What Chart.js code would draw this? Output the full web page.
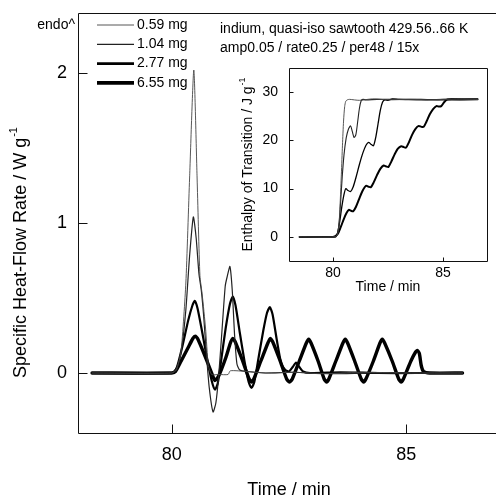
<!DOCTYPE html>
<html lang="en">
<head>
  <meta charset="UTF-8" />
  <title>Indium – quasi-isothermal sawtooth</title>
  <script src="https://cdn.jsdelivr.net/npm/chart.js"></script>
  <style>
    html, body { margin: 0; padding: 0; background: #fff; overflow: hidden; }
    #wrap { position: relative; width: 496px; height: 498px; overflow: hidden; }
    #mainChart { position: absolute; left: 0; top: 0; width: 496px; height: 498px; }
    #insetChart { position: absolute; left: 230px; top: 60px; width: 266px; height: 240px; }
  </style>
</head>
<body>
  <div id="wrap">
    <canvas id="mainChart" width="496" height="498"></canvas>
    <canvas id="insetChart" width="266" height="240"></canvas>
  </div>

  <script>
    const FONT = "'Liberation Sans', Arial, sans-serif";

    // sample masses
    const sampleLabels = ['0.59 mg', '1.04 mg', '2.77 mg', '6.55 mg'];

    // tick labels
    const mainXTicks = [80, 85];
    const mainYTicks = [0, 1, 2];
    const insetXTicks = [80, 85];
    const insetYTicks = [0, 10, 20, 30];

    // specific heat-flow rate (W/g) vs time (min)
    const t059 = [78.3, 80.0, 80.1, 80.2, 80.3, 80.38, 80.47, 80.54, 80.6, 80.65, 80.72, 80.78, 80.85, 81.0, 81.2, 81.25, 81.6, 82.0, 82.6, 83.2, 84.0, 85.0, 86.2];
    const hf059 = [0, 0, 0.02, 0.15, 0.6, 1.3, 2.02, 1.3, 0.65, 0.52, 0.3, 0.05, -0.01, -0.01, -0.01, 0.015, 0.01, 0.0, 0.005, -0.005, 0.005, 0.0, 0.0];

    const t104 = [78.3, 80.0, 80.1, 80.2, 80.3, 80.38, 80.46, 80.52, 80.58, 80.63, 80.68, 80.74, 80.8, 80.88, 80.94, 81.0, 81.07, 81.14, 81.18, 81.24, 81.29, 81.34, 81.39, 81.45, 81.6, 82.0, 82.6, 83.4, 84.2, 85.0, 86.2];
    const hf104 = [0, 0, 0.03, 0.14, 0.42, 0.78, 1.04, 0.9, 0.66, 0.55, 0.38, 0.12, -0.1, -0.26, -0.2, -0.02, 0.28, 0.58, 0.64, 0.71, 0.55, 0.25, 0.06, 0.02, 0.01, 0.0, 0.005, -0.005, 0.0, 0.0, 0.0];

    const t277 = [78.3, 80.0, 80.1, 80.22, 80.35, 80.44, 80.49, 80.55, 80.65, 80.75, 80.85, 80.92, 80.98, 81.06, 81.15, 81.24, 81.3, 81.36, 81.45, 81.55, 81.64, 81.7, 81.76, 81.85, 81.95, 82.03, 82.09, 82.15, 82.24, 82.33, 82.42, 82.5, 82.58, 82.65, 82.72, 82.8, 82.95, 83.6, 84.4, 85.2, 86.2];
    const hf277 = [0, 0, 0.03, 0.17, 0.35, 0.45, 0.48, 0.43, 0.27, 0.1, -0.05, -0.11, -0.07, 0.1, 0.3, 0.46, 0.51, 0.45, 0.27, 0.08, -0.06, -0.1, -0.06, 0.1, 0.28, 0.4, 0.44, 0.39, 0.22, 0.07, 0.02, 0.01, 0.04, 0.07, 0.04, 0.01, 0.0, 0.005, 0.0, 0.0, 0.0];

    const t655 = [78.3, 80.0, 80.08, 80.2, 80.35, 80.45, 80.5, 80.55, 80.7, 80.85, 80.92, 81.0, 81.15, 81.25, 81.3, 81.35, 81.5, 81.65, 81.7, 81.75, 81.9, 82.05, 82.1, 82.15, 82.3, 82.45, 82.51, 82.57, 82.72, 82.87, 82.92, 82.97, 83.12, 83.25, 83.3, 83.35, 83.5, 83.65, 83.7, 83.75, 83.9, 84.04, 84.09, 84.14, 84.3, 84.44, 84.49, 84.54, 84.7, 84.84, 84.89, 84.94, 85.1, 85.2, 85.24, 85.28, 85.32, 85.37, 85.5, 86.2];
    const hf655 = [0, 0, 0.01, 0.08, 0.17, 0.23, 0.245, 0.23, 0.12, 0.0, -0.05, -0.02, 0.1, 0.2, 0.23, 0.21, 0.09, -0.04, -0.06, -0.04, 0.08, 0.2, 0.23, 0.21, 0.09, -0.04, -0.06, -0.04, 0.08, 0.2, 0.225, 0.2, 0.08, -0.04, -0.06, -0.04, 0.08, 0.2, 0.225, 0.2, 0.08, -0.04, -0.06, -0.04, 0.08, 0.2, 0.225, 0.2, 0.08, -0.04, -0.06, -0.04, 0.08, 0.14, 0.15, 0.13, 0.05, 0.01, 0.0, 0.0];

    // enthalpy of transition (J/g) vs time (min), inset
    const et059 = [78.45, 80.1, 80.2, 80.27, 80.33, 80.38, 80.43, 80.48, 80.53, 80.58, 80.65, 80.75, 81.2, 81.8, 82.5, 83.5, 84.5, 85.5, 86.6];
    const dh059 = [0, 0, 0.4, 2.5, 7.5, 13, 19, 24, 27, 28.1, 28.4, 28.5, 28.3, 28.6, 28.4, 28.5, 28.4, 28.6, 28.5];

    const et104 = [78.45, 80.1, 80.2, 80.28, 80.35, 80.42, 80.5, 80.6, 80.7, 80.8, 80.88, 80.96, 81.04, 81.12, 81.2, 81.28, 81.36, 81.5, 82.0, 83.0, 84.0, 85.0, 86.6];
    const dh104 = [0, 0, 0.6, 3, 7.5, 12.5, 17, 20.5, 22.3, 23.0, 21.8, 20.6, 21.2, 23.8, 26.6, 28.2, 28.5, 28.4, 28.5, 28.5, 28.4, 28.5, 28.5];

    const et277 = [78.45, 80.1, 80.2, 80.3, 80.4, 80.5, 80.58, 80.68, 80.8, 80.92, 81.05, 81.2, 81.35, 81.5, 81.62, 81.72, 81.84, 81.95, 82.05, 82.15, 82.25, 82.35, 82.5, 82.7, 83.0, 84.0, 85.0, 86.6];
    const dh277 = [0, 0, 0.7, 3, 6.2, 8.8, 10.0, 9.6, 9.4, 10.4, 12.4, 15, 17.3, 19.0, 19.6, 19.2, 18.9, 20.8, 23.5, 26.2, 27.9, 28.4, 28.3, 28.6, 28.5, 28.5, 28.4, 28.5];

    const et655 = [78.45, 80.0, 80.2, 80.35, 80.5, 80.62, 80.72, 80.82, 80.92, 81.05, 81.2, 81.35, 81.5, 81.62, 81.72, 81.85, 82.0, 82.15, 82.3, 82.42, 82.52, 82.65, 82.8, 82.95, 83.1, 83.22, 83.32, 83.45, 83.6, 83.75, 83.9, 84.02, 84.12, 84.25, 84.4, 84.55, 84.7, 84.82, 84.92, 85.05, 85.2, 85.4, 86.6];
    const dh655 = [0, 0, 0.5, 2.0, 3.8, 5.0, 5.6, 5.4, 5.3, 6.3, 8.0, 9.6, 10.6, 10.4, 10.3, 11.3, 12.8, 14.1, 14.8, 14.6, 14.5, 15.6, 17.1, 18.3, 18.8, 18.6, 18.5, 19.6, 21.2, 22.4, 23.0, 22.8, 22.8, 23.9, 25.4, 26.5, 27.1, 27.0, 27.1, 27.9, 28.5, 28.6, 28.5];

    const pairs = (xs, ys) => xs.map((x, i) => ({ x: x, y: ys[i] }));

    // text with a small raised suffix, centred on (x, y)
    function drawSup(ctx, base, sup, x, y, size) {
      ctx.font = size + 'px ' + FONT;
      const wb = ctx.measureText(base).width;
      const ss = Math.round(size * 0.62);
      ctx.font = ss + 'px ' + FONT;
      const ws = ctx.measureText(sup).width;
      const start = x - (wb + ws) / 2;
      ctx.textAlign = 'left';
      ctx.textBaseline = 'middle';
      ctx.font = size + 'px ' + FONT;
      ctx.fillText(base, start, y);
      ctx.font = ss + 'px ' + FONT;
      ctx.fillText(sup, start + wb + 1, y - size * 0.38);
    }

    // pin the plot box; the main one runs a few pixels past the picture's right edge
    const fixArea = {
      id: 'fixArea',
      afterLayout(chart, args, opts) {
        const a = chart.chartArea;
        const b = opts.area;
        a.left = b.left; a.top = b.top; a.right = b.right; a.bottom = b.bottom;
        a.width = b.right - b.left; a.height = b.bottom - b.top;
        const x = chart.scales.x, y = chart.scales.y;
        x.left = a.left; x.right = a.right; x.width = a.width;
        x.top = a.bottom; x.bottom = a.bottom + x.height;
        y.top = a.top; y.bottom = a.bottom; y.height = a.height;
        y.right = a.left; y.left = a.left - y.width;
        x.configure(); y.configure();
        x._labelItems = null; y._labelItems = null;
      }
    };

    // frame, inward ticks, titles and free text
    const decor = {
      id: 'decor',
      afterDatasetsDraw(chart, args, opts) {
        const { ctx, chartArea: a } = chart;
        const sx = chart.scales.x, sy = chart.scales.y;
        const L0 = Math.round(a.left) + 0.5, T0 = Math.round(a.top) + 0.5;
        const R0 = Math.round(a.right) + 0.5, B0 = Math.round(a.bottom) + 0.5;
        ctx.save();
        ctx.strokeStyle = '#111';
        ctx.lineWidth = 1;
        ctx.beginPath();
        ctx.moveTo(R0, T0);
        ctx.lineTo(L0, T0);
        ctx.lineTo(L0, B0);
        ctx.lineTo(R0, B0);
        ctx.lineTo(R0, T0);
        sx.ticks.forEach(t => {
          const px = Math.round(sx.getPixelForValue(t.value)) + 0.5;
          ctx.moveTo(px, B0);
          ctx.lineTo(px, B0 - opts.tickLen);
        });
        sy.ticks.forEach(t => {
          const py = Math.round(sy.getPixelForValue(t.value)) + 0.5;
          ctx.moveTo(L0, py);
          ctx.lineTo(L0 + opts.tickLen, py);
        });
        ctx.stroke();

        ctx.fillStyle = '#000';
        ctx.font = opts.titleSize + 'px ' + FONT;
        ctx.textAlign = 'center';
        ctx.textBaseline = 'middle';
        ctx.fillText(opts.xTitle, opts.xTitlePos[0], opts.xTitlePos[1]);
        ctx.save();
        ctx.translate(opts.yTitlePos[0], opts.yTitlePos[1]);
        ctx.rotate(-Math.PI / 2);
        drawSup(ctx, opts.yTitle, '-1', 0, 0, opts.titleSize);
        ctx.restore();

        (opts.notes || []).forEach(n => {
          ctx.font = n.size + 'px ' + FONT;
          ctx.textAlign = n.align || 'left';
          ctx.textBaseline = 'middle';
          ctx.fillText(n.text, n.x, n.y);
        });

        if (opts.legend) {
          const L = opts.legend;
          chart.data.datasets.forEach((ds, i) => {
            const yy = L.y0 + i * L.dy;
            ctx.beginPath();
            ctx.strokeStyle = ds.borderColor;
            ctx.lineWidth = L.widths[i];
            ctx.moveTo(L.x0, yy);
            ctx.lineTo(L.x1, yy);
            ctx.stroke();
            ctx.font = L.size + 'px ' + FONT;
            ctx.textAlign = 'left';
            ctx.textBaseline = 'middle';
            ctx.fillStyle = '#000';
            ctx.fillText(ds.label, L.x1 + 3, yy);
          });
        }
        ctx.restore();
      }
    };

    const fixX = h => s => { s.height = h; };
    const fixY = w => s => { s.width = w; };

    const lineColors = ['#444', '#222', '#000', '#000'];
    const mainWidths = [0.9, 1.2, 2.2, 3.4];
    const insetWidths = [0.9, 1.1, 1.3, 2.0];

    new Chart(document.getElementById('mainChart'), {
      type: 'line',
      data: {
        datasets: [
          { label: sampleLabels[0], data: pairs(t059, hf059), borderColor: lineColors[0], borderWidth: mainWidths[0] },
          { label: sampleLabels[1], data: pairs(t104, hf104), borderColor: lineColors[1], borderWidth: mainWidths[1] },
          { label: sampleLabels[2], data: pairs(t277, hf277), borderColor: lineColors[2], borderWidth: mainWidths[2] },
          { label: sampleLabels[3], data: pairs(t655, hf655), borderColor: lineColors[3], borderWidth: mainWidths[3] }
        ]
      },
      options: {
        responsive: false,
        animation: false,
        devicePixelRatio: 1,
        layout: { padding: { top: 13, right: 0, left: 0, bottom: 0 } },
        elements: { point: { radius: 0 }, line: { tension: 0.2, borderJoinStyle: 'round', borderCapStyle: 'round' } },
        plugins: {
          legend: { display: false },
          tooltip: { enabled: false },
          fixArea: { area: { left: 78, top: 13, right: 500, bottom: 433 } },
          decor: {
            tickLen: 9,
            titleSize: 18,
            xTitle: 'Time / min',
            xTitlePos: [289, 490],
            yTitle: 'Specific Heat-Flow Rate / W g',
            yTitlePos: [21, 253],
            notes: [
              { text: 'endo^', x: 75, y: 25, size: 14, align: 'right' },
              { text: 'indium, quasi-iso sawtooth 429.56..66 K', x: 220, y: 29, size: 14 },
              { text: 'amp0.05 / rate0.25 / per48 / 15x', x: 220, y: 48, size: 14 }
            ],
            legend: { x0: 97, x1: 134, y0: 25, dy: 19.3, size: 14, widths: [0.9, 1.2, 2.6, 3.6] }
          }
        },
        scales: {
          x: {
            type: 'linear', min: 78, max: 87,
            afterBuildTicks: s => { s.ticks = mainXTicks.map(v => ({ value: v })); },
            afterFit: fixX(65),
            grid: { display: false, drawTicks: false },
            border: { display: false },
            ticks: { color: '#000', font: { family: FONT, size: 18 }, padding: 11, maxRotation: 0 }
          },
          y: {
            type: 'linear', min: -0.4, max: 2.4,
            afterBuildTicks: s => { s.ticks = mainYTicks.map(v => ({ value: v })); },
            afterFit: fixY(78),
            grid: { display: false, drawTicks: false },
            border: { display: false },
            ticks: { color: '#000', font: { family: FONT, size: 18 }, padding: 11 }
          }
        }
      },
      plugins: [fixArea, decor]
    });

    new Chart(document.getElementById('insetChart'), {
      type: 'line',
      data: {
        datasets: [
          { label: sampleLabels[0], data: pairs(et059, dh059), borderColor: lineColors[0], borderWidth: insetWidths[0] },
          { label: sampleLabels[1], data: pairs(et104, dh104), borderColor: lineColors[1], borderWidth: insetWidths[1] },
          { label: sampleLabels[2], data: pairs(et277, dh277), borderColor: lineColors[2], borderWidth: insetWidths[2] },
          { label: sampleLabels[3], data: pairs(et655, dh655), borderColor: lineColors[3], borderWidth: insetWidths[3] }
        ]
      },
      options: {
        responsive: false,
        animation: false,
        devicePixelRatio: 1,
        layout: { padding: { top: 8, right: 9, left: 0, bottom: 0 } },
        elements: { point: { radius: 0 }, line: { tension: 0.25, borderJoinStyle: 'round' } },
        plugins: {
          legend: { display: false },
          tooltip: { enabled: false },
          fixArea: { area: { left: 59, top: 8, right: 257, bottom: 201 } },
          decor: {
            tickLen: 4,
            titleSize: 14,
            xTitle: 'Time / min',
            xTitlePos: [158, 227],
            yTitle: 'Enthalpy of Transition / J g',
            yTitlePos: [18, 105]
          }
        },
        scales: {
          x: {
            type: 'linear', min: 78, max: 87,
            afterBuildTicks: s => { s.ticks = insetXTicks.map(v => ({ value: v })); },
            afterFit: fixX(39),
            grid: { display: false, drawTicks: false },
            border: { display: false },
            ticks: { color: '#000', font: { family: FONT, size: 14 }, padding: 4, maxRotation: 0 }
          },
          y: {
            type: 'linear', min: -5, max: 35,
            afterBuildTicks: s => { s.ticks = insetYTicks.map(v => ({ value: v })); },
            afterFit: fixY(59),
            grid: { display: false, drawTicks: false },
            border: { display: false },
            ticks: { color: '#000', font: { family: FONT, size: 14 }, padding: 11 }
          }
        }
      },
      plugins: [fixArea, decor]
    });
  </script>
</body>
</html>
